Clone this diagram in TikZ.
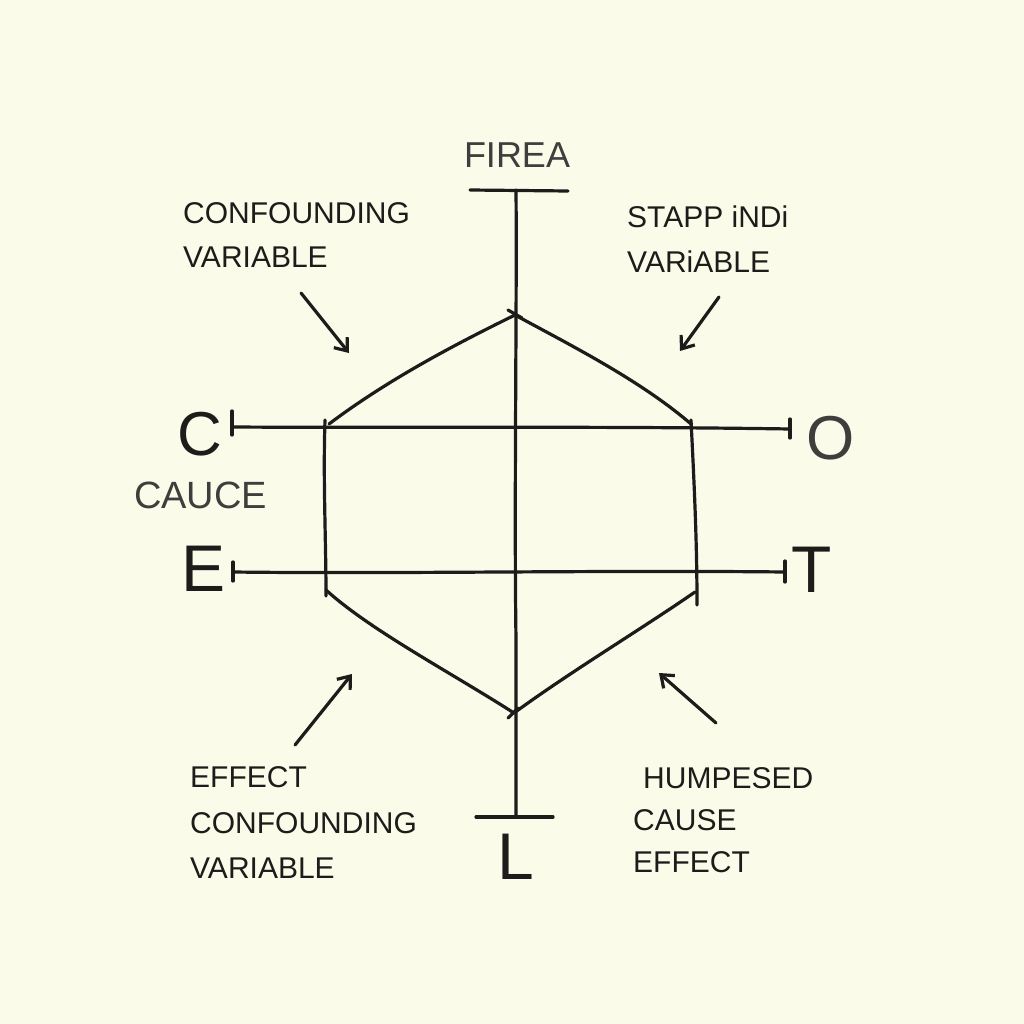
\documentclass[tikz,border=0pt]{standalone}
\usepackage{fontspec}
\setmainfont{Liberation Sans}
\usetikzlibrary{arrows.meta}
\definecolor{paper}{HTML}{FBFBEA}
\definecolor{ink}{HTML}{1C1C1A}
\definecolor{softink}{HTML}{3E3E3C}
\tikzset{
  pen/.style={draw=ink, line width=3.2pt, line cap=round, line join=round},
  pointer/.style={pen, -{Straight Barb[length=11pt,width=17pt,line width=3.2pt]}},
  lbl/.style={inner sep=0pt, anchor=base west, text=ink, font=\fontsize{30}{36}\selectfont},
  big/.style={inner sep=0pt, anchor=base, text=ink, font=\fontsize{66}{70}\selectfont},
}
\begin{document}
\begin{tikzpicture}[x=1pt,y=-1pt]
\fill[paper] (0,0) rectangle (1024,1024);
\useasboundingbox (0,0) rectangle (1024,1024);

% axis coordinates
\coordinate (vtop) at (516,190);
\coordinate (vbot) at (516,817);
\coordinate (hexT) at (515,315);
\coordinate (hexUL) at (329,424);
\coordinate (hexLL) at (326,590);
\coordinate (hexB) at (514,713);
\coordinate (hexLR) at (695,592);
\coordinate (hexUR) at (691,424);
\coordinate (c1) at (232,427);
\coordinate (o1) at (790,429);
\coordinate (e1) at (233,572);
\coordinate (t1) at (785,572);

% vertical axis with end bars
\draw[pen] (vtop) .. controls (517,300) and (514,500) .. (516,640) -- (vbot);
\draw[pen] (470,190) -- (568,191);
\draw[pen] (476,817) -- (553,817);

% horizontal lines with ticks
\draw[pen] (c1) .. controls (400,428) and (600,426) .. (o1);
\draw[pen] (232,411) -- (232,435);
\draw[pen] (790,419) -- (790,438);
\draw[pen] (e1) .. controls (400,574) and (600,570) .. (t1);
\draw[pen] (233,562) -- (233,581);
\draw[pen] (785,561) -- (785,582);

% hexagon
\draw[pen] (hexT) .. controls (460,342) and (390,378) .. (hexUL);
\draw[pen] (hexT) .. controls (570,345) and (640,380) .. (hexUR);
\draw[pen] (325,420) .. controls (323,480) and (326,540) .. (326,596);
\draw[pen] (691,420) .. controls (694,480) and (697,540) .. (697,605);
\draw[pen] (hexLL) .. controls (370,630) and (450,672) .. (hexB);
\draw[pen] (hexLR) .. controls (640,630) and (570,672) .. (hexB);
\draw[pen] (508,310) -- (522,318);
\draw[pen] (508,718) -- (518,708);

% big letters
\node[big, font=\fontsize{62}{66}\selectfont] (labC) at (200,455) {C};
\node[big] (labE) at (204,591) {E};
\node[big, text=softink, font=\fontsize{62}{66}\selectfont] (labO) at (831,459) {O};
\node[big] (labT) at (812,592) {T};
\node[big] (labL) at (516,879) {L};

\node[inner sep=0pt, anchor=base, text=softink, font=\fontsize{36}{40}\selectfont] (firea) at (517,168) {FIREA};
\node[inner sep=0pt, anchor=base west, text=softink, font=\fontsize{38}{42}\selectfont] (cauce) at (134,508) {CAUCE};

% annotation blocks
\node[lbl] (tl1) at (183,224) {CONFOUNDING};
\node[lbl] (tl2) at (183,267) {VARIABLE};
\node[lbl] (tr1) at (627,227) {STAPP iNDi};
\node[lbl] (tr2) at (627,272) {VARiABLE};
\node[lbl] (bl1) at (190,787) {EFFECT};
\node[lbl] (bl2) at (190,833) {CONFOUNDING};
\node[lbl] (bl3) at (190,878) {VARIABLE};
\node[lbl] (br1) at (643,788) {HUMPESED};
\node[lbl] (br2) at (633,830) {CAUSE};
\node[lbl] (br3) at (633,872) {EFFECT};

% pointer arrows
\coordinate (a1s) at (301,293); \coordinate (a1e) at (349,353);
\coordinate (a2s) at (719,297); \coordinate (a2e) at (680,351);
\coordinate (a3s) at (295,745); \coordinate (a3e) at (352,674);
\coordinate (a4s) at (716,723); \coordinate (a4e) at (659,673);
\draw[pointer] (a1s) -- (a1e);
\draw[pointer] (a2s) -- (a2e);
\draw[pointer] (a3s) -- (a3e);
\draw[pointer] (a4s) -- (a4e);
\end{tikzpicture}
\end{document}
